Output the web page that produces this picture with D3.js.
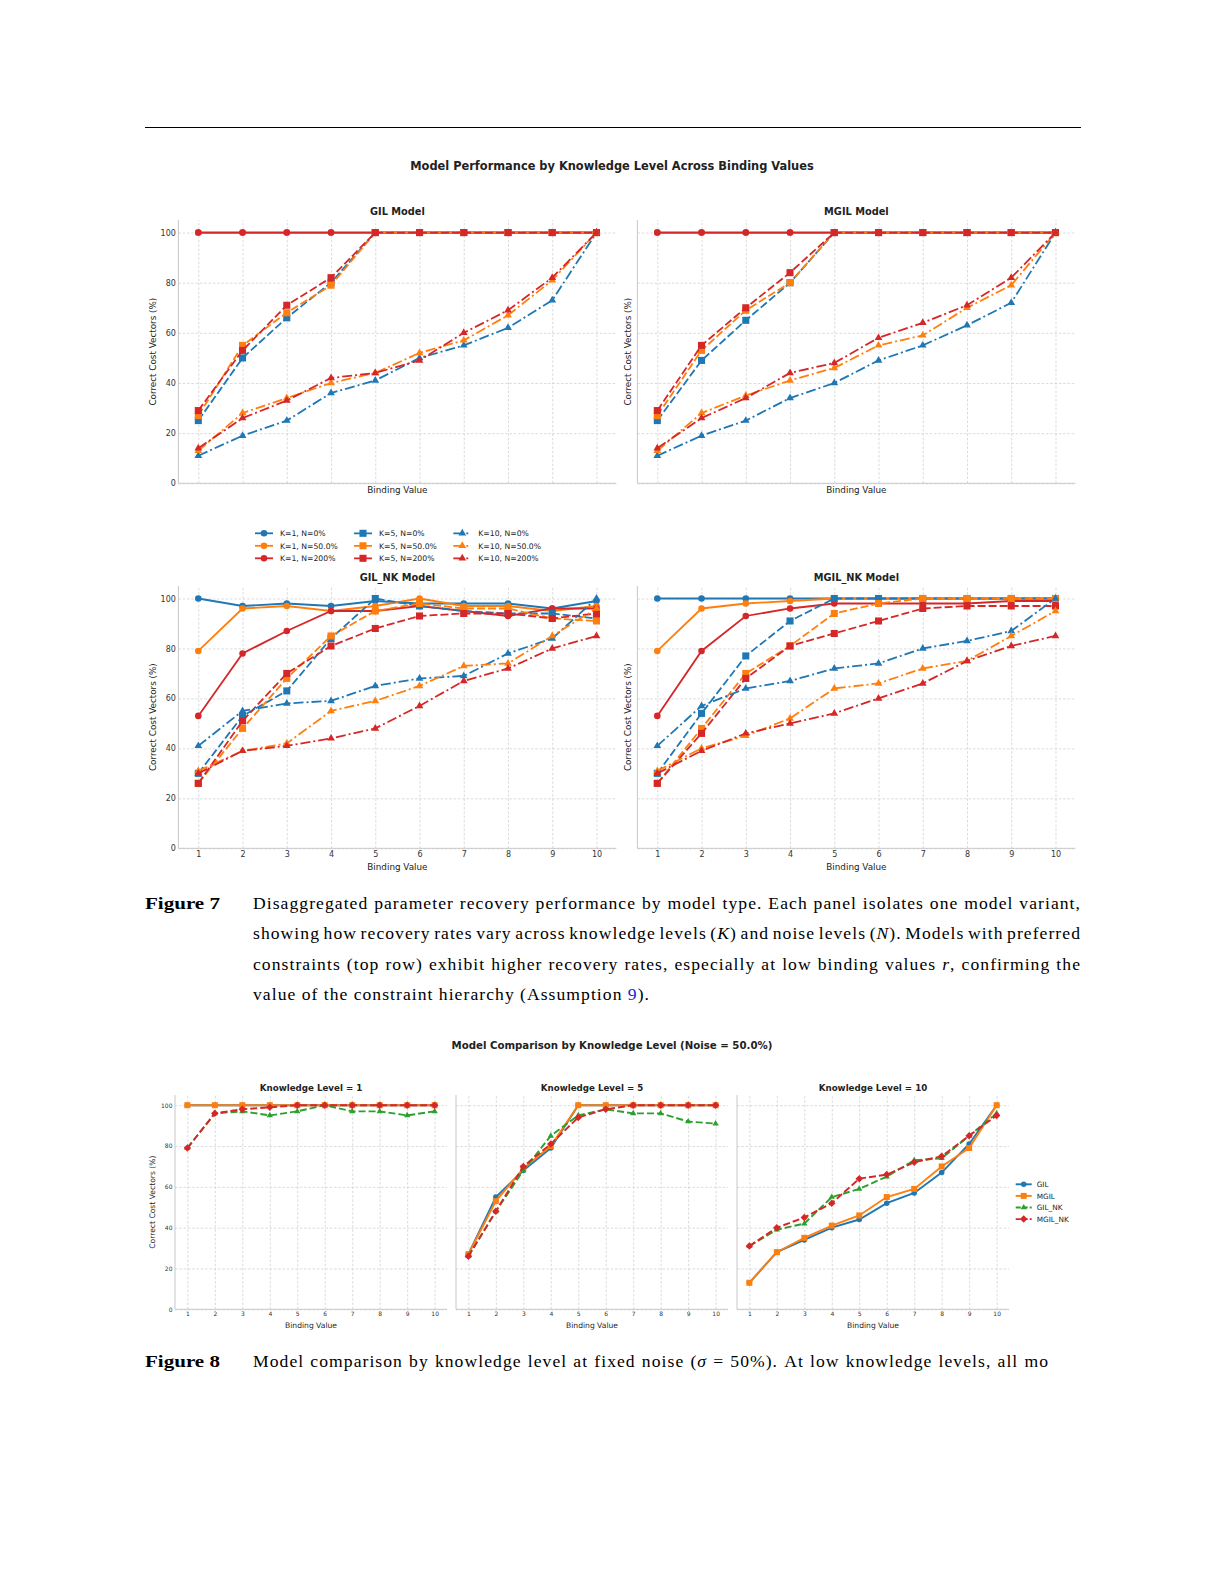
<!DOCTYPE html>
<html><head><meta charset="utf-8">
<script src="https://cdn.jsdelivr.net/npm/d3@7"></script>
<style>body{margin:0;background:#fff}</style>
</head><body><div id="root"></div>
<script>
// ---------------- DATA ----------------
const bindingValues = [1,2,3,4,5,6,7,8,9,10];
const yTicks = [0,20,40,60,80,100];
const knowledgeLevels = [1,5,10];
const noiseLevels = ["0%","50.0%","200%"];
const compareModels = ["GIL","MGIL","GIL_NK","MGIL_NK"];

// GIL
const GIL_K1_N0   = [100,100,100,100,100,100,100,100,100,100];
const GIL_K1_N50  = [100,100,100,100,100,100,100,100,100,100];
const GIL_K1_N200 = [100,100,100,100,100,100,100,100,100,100];
const GIL_K5_N0   = [25,50,66,80,100,100,100,100,100,100];
const GIL_K5_N50  = [27,55,68,79,100,100,100,100,100,100];
const GIL_K5_N200 = [29,53,71,82,100,100,100,100,100,100];
const GIL_K10_N0   = [11,19,25,36,41,50,55,62,73,100];
const GIL_K10_N50  = [13,28,34,40,44,52,57,67,81,100];
const GIL_K10_N200 = [14,26,33,42,44,49,60,69,82,100];
// MGIL
const MGIL_K1_N0   = [100,100,100,100,100,100,100,100,100,100];
const MGIL_K1_N50  = [100,100,100,100,100,100,100,100,100,100];
const MGIL_K1_N200 = [100,100,100,100,100,100,100,100,100,100];
const MGIL_K5_N0   = [25,49,65,80,100,100,100,100,100,100];
const MGIL_K5_N50  = [27,53,69,80,100,100,100,100,100,100];
const MGIL_K5_N200 = [29,55,70,84,100,100,100,100,100,100];
const MGIL_K10_N0   = [11,19,25,34,40,49,55,63,72,100];
const MGIL_K10_N50  = [13,28,35,41,46,55,59,70,79,100];
const MGIL_K10_N200 = [14,26,34,44,48,58,64,71,82,100];
// GIL_NK
const GIL_NK_K1_N0   = [100,97,98,97,99,98,98,98,96,99];
const GIL_NK_K1_N50  = [79,96,97,95,97,100,97,97,95,97];
const GIL_NK_K1_N200 = [53,78,87,95,95,97,95,93,96,96];
const GIL_NK_K5_N0   = [30,53,63,84,100,97,95,94,94,92];
const GIL_NK_K5_N50  = [26,48,68,85,95,98,96,96,92,91];
const GIL_NK_K5_N200 = [26,51,70,81,88,93,94,94,92,94];
const GIL_NK_K10_N0   = [41,55,58,59,65,68,69,78,84,100];
const GIL_NK_K10_N50  = [31,39,42,55,59,65,73,74,85,96];
const GIL_NK_K10_N200 = [30,39,41,44,48,57,67,72,80,85];
// MGIL_NK
const MGIL_NK_K1_N0   = [100,100,100,100,100,100,100,100,100,100];
const MGIL_NK_K1_N50  = [79,96,98,99,100,100,100,100,100,100];
const MGIL_NK_K1_N200 = [53,79,93,96,98,98,98,98,99,99];
const MGIL_NK_K5_N0   = [30,54,77,91,100,100,100,100,100,100];
const MGIL_NK_K5_N50  = [26,48,70,81,94,98,100,100,100,100];
const MGIL_NK_K5_N200 = [26,46,68,81,86,91,96,97,97,97];
const MGIL_NK_K10_N0   = [41,57,64,67,72,74,80,83,87,100];
const MGIL_NK_K10_N50  = [31,40,45,52,64,66,72,75,85,95];
const MGIL_NK_K10_N200 = [30,39,46,50,54,60,66,75,81,85];

// ---------------- SETUP ----------------
const W = 1225, H = 1585;
const SANS = "'DejaVu Sans', Verdana, sans-serif";
const SERIF = "'Liberation Serif', 'Times New Roman', serif";
const COL = ["#1f77b4","#ff7f0e","#d62728"];          // by noise level
const CMP_COL = ["#1f77b4","#ff7f0e","#2ca02c","#d62728"];
const DASH = [null, "8,3", "10,3,2,3"];               // by knowledge level
const SYM = [d3.symbolCircle, d3.symbolSquare, d3.symbolTriangle];
const SYM_SIZE = [34, 50, 26];

const svg = d3.select("#root").append("svg").attr("width", W).attr("height", H)
  .attr("font-family", SANS);
svg.append("rect").attr("width", W).attr("height", H).attr("fill", "#fff");

// top rule
svg.append("line").attr("x1",145).attr("x2",1081).attr("y1",127.5).attr("y2",127.5)
  .attr("stroke","#000").attr("stroke-width",1);

function text(x, y, s, o = {}) {
  const t = svg.append("text").attr("x", x).attr("y", y).text(s)
    .attr("font-size", o.size || 10).attr("fill", o.fill || "#222")
    .attr("text-anchor", o.anchor || "middle")
    .attr("font-weight", o.bold ? "bold" : "normal")
    .attr("font-family", o.family || SANS);
  if (o.rotate) t.attr("transform", `rotate(-90,${x},${y})`);
  return t;
}

function drawPanel(p) {
  const g = svg.append("g");
  const x = d3.scaleLinear().domain([0.55, 10.45]).range([p.left, p.left + p.width]);
  const y = d3.scaleLinear().domain([0, 105]).range([p.top + p.height, p.top]);
  const bottom = p.top + p.height;

  const yAxis = d3.axisLeft(y).tickValues(yTicks).tickSize(-p.width).tickPadding(2.5)
    .tickFormat(p.showY ? d3.format("d") : () => "");
  const gy = g.append("g").attr("transform", `translate(${p.left},0)`).call(yAxis);
  gy.select(".domain").remove();
  gy.attr("font-family", SANS).attr("font-size", p.tickFont);
  gy.selectAll(".tick line").attr("stroke", "#d2d2d2").attr("stroke-width", 0.8).attr("stroke-dasharray", "2.5,1.8");
  gy.selectAll(".tick text").attr("fill", "#333");

  const xAxis = d3.axisBottom(x).tickValues(bindingValues).tickSize(-p.height).tickPadding(p.xPad || 3)
    .tickFormat(p.showX ? d3.format("d") : () => "");
  const gx = g.append("g").attr("transform", `translate(0,${bottom})`).call(xAxis);
  gx.select(".domain").remove();
  gx.attr("font-family", SANS).attr("font-size", p.tickFont);
  gx.selectAll(".tick line").attr("stroke", "#d2d2d2").attr("stroke-width", 0.8).attr("stroke-dasharray", "2.5,1.8");
  gx.selectAll(".tick text").attr("fill", "#333");

  // spines
  g.append("line").attr("x1", p.left).attr("x2", p.left).attr("y1", p.top).attr("y2", bottom)
    .attr("stroke", "#c8c8c8").attr("stroke-width", 1);
  g.append("line").attr("x1", p.left).attr("x2", p.left + p.width).attr("y1", bottom).attr("y2", bottom)
    .attr("stroke", "#c8c8c8").attr("stroke-width", 1);

  text(p.left + p.width / 2, p.titleY, p.title, {size: p.titleFont, bold: true});
  text(p.left + p.width / 2, p.xLabelY, "Binding Value", {size: p.labelFont});
  if (p.showYLabel)
    text(p.yLabelX, p.top + p.height / 2, "Correct Cost Vectors (%)", {size: p.labelFont, rotate: true});
  return {g, x, y};
}

function drawSeries(g, x, y, vals, color, dash, sym, symSize, lw, rot) {
  const line = d3.line().x((d, i) => x(bindingValues[i])).y(d => y(d));
  const path = g.append("path").datum(vals).attr("d", line).attr("fill", "none")
    .attr("stroke", color).attr("stroke-width", lw);
  if (dash) path.attr("stroke-dasharray", dash);
  g.append("g").selectAll("path").data(vals).join("path")
    .attr("d", d3.symbol(sym, symSize))
    .attr("transform", (d, i) => `translate(${x(bindingValues[i])},${y(d)})` + (rot ? " rotate(45)" : ""))
    .attr("fill", color);
}

// ---------------- FIGURE 7 ----------------
text(612, 170, "Model Performance by Knowledge Level Across Binding Values", {size: 11.4, bold: true});

const topPanels = [
  {title: "GIL Model", data: [[GIL_K1_N0,GIL_K1_N50,GIL_K1_N200],[GIL_K5_N0,GIL_K5_N50,GIL_K5_N200],[GIL_K10_N0,GIL_K10_N50,GIL_K10_N200]],
   left: 178.4, top: 220, height: 263.3, showX: false, showY: true, titleY: 214.8, xLabelY: 493.2, yLabelX: 156},
  {title: "MGIL Model", data: [[MGIL_K1_N0,MGIL_K1_N50,MGIL_K1_N200],[MGIL_K5_N0,MGIL_K5_N50,MGIL_K5_N200],[MGIL_K10_N0,MGIL_K10_N50,MGIL_K10_N200]],
   left: 637.4, top: 220, height: 263.3, showX: false, showY: false, titleY: 214.8, xLabelY: 493.2, yLabelX: 631},
  {title: "GIL_NK Model", data: [[GIL_NK_K1_N0,GIL_NK_K1_N50,GIL_NK_K1_N200],[GIL_NK_K5_N0,GIL_NK_K5_N50,GIL_NK_K5_N200],[GIL_NK_K10_N0,GIL_NK_K10_N50,GIL_NK_K10_N200]],
   left: 178.4, top: 586, height: 262.3, showX: true, showY: true, titleY: 580.6, xLabelY: 869.5, yLabelX: 156},
  {title: "MGIL_NK Model", data: [[MGIL_NK_K1_N0,MGIL_NK_K1_N50,MGIL_NK_K1_N200],[MGIL_NK_K5_N0,MGIL_NK_K5_N50,MGIL_NK_K5_N200],[MGIL_NK_K10_N0,MGIL_NK_K10_N50,MGIL_NK_K10_N200]],
   left: 637.4, top: 586, height: 262.3, showX: true, showY: false, titleY: 580.6, xLabelY: 869.5, yLabelX: 631},
];

topPanels.forEach(p => {
  const {g, x, y} = drawPanel(Object.assign({width: 438, tickFont: 8, titleFont: 9.8, labelFont: 8.8, showYLabel: true, xPad: 3}, p));
  knowledgeLevels.forEach((k, ki) => {
    noiseLevels.forEach((n, ni) => {
      drawSeries(g, x, y, p.data[ki][ni], COL[ni], DASH[ki], SYM[ki], SYM_SIZE[ki], 1.8);
    });
  });
});

// legend (figure 7)
{
  const colX = [255, 354, 453.3];
  const rowY = [533.3, 545.8, 558.3];
  knowledgeLevels.forEach((k, ki) => {
    noiseLevels.forEach((n, ni) => {
      const lx = colX[ki], ly = rowY[ni];
      const l = svg.append("line").attr("x1", lx).attr("x2", lx + 18).attr("y1", ly).attr("y2", ly)
        .attr("stroke", COL[ni]).attr("stroke-width", 1.8);
      if (DASH[ki]) l.attr("stroke-dasharray", DASH[ki]);
      svg.append("path").attr("d", d3.symbol(SYM[ki], SYM_SIZE[ki])).attr("transform", `translate(${lx + 9},${ly})`).attr("fill", COL[ni]);
      text(lx + 25, ly + 2.8, `K=${k}, N=${n}`, {size: 7.7, anchor: "start"});
    });
  });
}

// ---------------- CAPTIONS ----------------
const capSize = 17.6;
let capLS = 0;
function makeWord(w, yb) {
  const t = svg.append("text").attr("y", yb).attr("font-family", SERIF).attr("font-size", capSize)
    .attr("fill", "#000").attr("letter-spacing", capLS);
  w.forEach(seg => {
    const ts = t.append("tspan").text(seg.t);
    if (seg.i) ts.attr("font-style", "italic");
    if (seg.c) ts.attr("fill", seg.c);
  });
  return t;
}
function captionLine(words, x0, x1, yb, justify) {
  const els = words.map(w => makeWord(w, yb));
  const widths = els.map(e => e.node().getComputedTextLength());
  const total = d3.sum(widths);
  const space = capSize * 0.3;
  const gap = justify ? (x1 - x0 - total) / (els.length - 1) : space;
  let cx = x0;
  els.forEach((e, i) => { e.attr("x", cx); cx += widths[i] + gap; });
}
function W_(s) { return s.split(" ").map(w => [{t: w}]); }

// calibrate letter-spacing on the last (unjustified) line of figure 7 caption
const line4 = [].concat(W_("value of the constraint hierarchy"), [[{t:"(Assumption"}]], [[{t:"9",c:"#1a1ae6"},{t:")."}]]);
{
  const probe = svg.append("text").attr("font-family", SERIF).attr("font-size", capSize)
    .text("value of the constraint hierarchy (Assumption 9).");
  const w = probe.node().getComputedTextLength();
  const n = "value of the constraint hierarchy (Assumption 9).".length;
  capLS = Math.max(0, (398 - w) / n);
  probe.remove();
}

svg.append("text").attr("x", 145).attr("y", 909).attr("font-family", SERIF).attr("font-weight", "bold")
  .attr("font-size", capSize).attr("textLength", 75).attr("lengthAdjust", "spacingAndGlyphs").text("Figure 7");
captionLine(W_("Disaggregated parameter recovery performance by model type. Each panel isolates one model variant,"), 253, 1081, 909, true);
captionLine([].concat(W_("showing how recovery rates vary across knowledge levels"),
  [[{t:"("},{t:"K",i:true},{t:")"}]], W_("and noise levels"), [[{t:"("},{t:"N",i:true},{t:")."}]], W_("Models with preferred")),
  253, 1081, 939.4, true);
captionLine([].concat(W_("constraints (top row) exhibit higher recovery rates, especially at low binding values"),
  [[{t:"r",i:true},{t:","}]], W_("confirming the")), 253, 1081, 969.8, true);
captionLine(line4, 253, 1081, 1000.2, false);

// ---------------- FIGURE 8 ----------------
text(612, 1049, "Model Comparison by Knowledge Level (Noise = 50.0%)", {size: 10.2, bold: true});

const comparePanels = [
  {title: "Knowledge Level = 1", data: [GIL_K1_N50, MGIL_K1_N50, GIL_NK_K1_N50, MGIL_NK_K1_N50], left: 175, showY: true},
  {title: "Knowledge Level = 5", data: [GIL_K5_N50, MGIL_K5_N50, GIL_NK_K5_N50, MGIL_NK_K5_N50], left: 456, showY: false},
  {title: "Knowledge Level = 10", data: [GIL_K10_N50, MGIL_K10_N50, GIL_NK_K10_N50, MGIL_NK_K10_N50], left: 737, showY: false},
];
const CMP_SYM = [d3.symbolCircle, d3.symbolSquare, d3.symbolTriangle, d3.symbolSquare];
const CMP_SIZE = [24, 36, 17, 28];
const CMP_DASH = [null, null, "7,3", "7,3"];
const CMP_ROT = [false, false, false, true];

comparePanels.forEach(p => {
  const {g, x, y} = drawPanel({title: p.title, left: p.left, top: 1095, width: 272, height: 214.3,
    showX: true, showY: p.showY, showYLabel: p.showY, tickFont: 6, titleFont: 8.7, labelFont: 7.6,
    titleY: 1090.5, xLabelY: 1328, yLabelX: 155.2, xPad: 2.5});
  compareModels.forEach((m, mi) => {
    drawSeries(g, x, y, p.data[mi], CMP_COL[mi], CMP_DASH[mi], CMP_SYM[mi], CMP_SIZE[mi], 1.9, CMP_ROT[mi]);
  });
});

// legend (figure 8)
{
  const rowY = [1184.3, 1195.9, 1207.5, 1219.1];
  compareModels.forEach((m, mi) => {
    const lx = 1015.7, ly = rowY[mi];
    const l = svg.append("line").attr("x1", lx).attr("x2", lx + 16).attr("y1", ly).attr("y2", ly)
      .attr("stroke", CMP_COL[mi]).attr("stroke-width", 1.9);
    if (CMP_DASH[mi]) l.attr("stroke-dasharray", "5,2");
    svg.append("path").attr("d", d3.symbol(CMP_SYM[mi], CMP_SIZE[mi]))
      .attr("transform", `translate(${lx + 8},${ly})` + (CMP_ROT[mi] ? " rotate(45)" : "")).attr("fill", CMP_COL[mi]);
    text(lx + 21, ly + 2.6, m, {size: 7.3, anchor: "start"});
  });
}

svg.append("text").attr("x", 145).attr("y", 1366.5).attr("font-family", SERIF).attr("font-weight", "bold")
  .attr("font-size", capSize).attr("textLength", 75).attr("lengthAdjust", "spacingAndGlyphs").text("Figure 8");
captionLine([].concat(W_("Model comparison by knowledge level at fixed noise"),
  [[{t:"("},{t:"σ",i:true}]], [[{t:"="}]], [[{t:"50%)."}]], W_("At low knowledge levels, all mo")),
  253, 1049, 1366.5, true);
</script>
</body></html>
